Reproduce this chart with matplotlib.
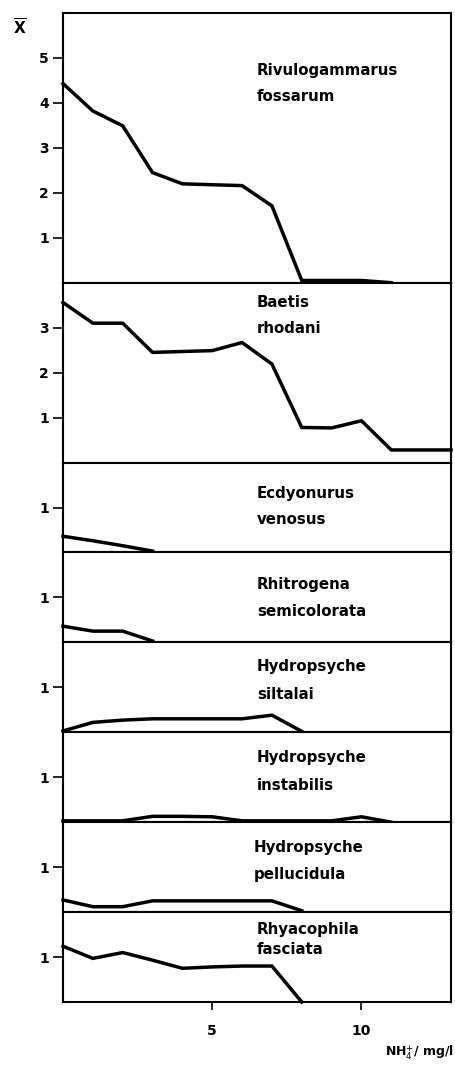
import matplotlib
matplotlib.use('Agg')
import matplotlib.pyplot as plt

# ---- data -------------------------------------------------------------
species = ["Rivulogammarus\nfossarum", "Baetis\nrhodani", "Ecdyonurus\nvenosus",
           "Rhitrogena\nsemicolorata", "Hydropsyche\nsiltalai", "Hydropsyche\ninstabilis",
           "Hydropsyche\npellucidula", "Rhyacophila\nfasciata"]

rivulo_x = [0, 1, 2, 3, 4, 5, 6, 7, 8, 9, 10, 11]
rivulo_y = [4.43, 3.82, 3.49, 2.45, 2.20, 2.18, 2.16, 1.71, 0.05, 0.05, 0.05, 0.0]

baetis_x = [0, 1, 2, 3, 4, 5, 6, 7, 8, 9, 10, 11, 12, 13]
baetis_y = [3.56, 3.10, 3.10, 2.45, 2.47, 2.49, 2.67, 2.19, 0.78, 0.77, 0.93, 0.28, 0.28, 0.28]

ecdy_x = [0, 1, 2, 3]
ecdy_y = [0.36, 0.26, 0.15, 0.03]

rhitro_x = [0, 1, 2, 3]
rhitro_y = [0.36, 0.25, 0.25, 0.03]

silt_x = [0, 1, 2, 3, 4, 5, 6, 7, 8]
silt_y = [0.03, 0.22, 0.27, 0.30, 0.30, 0.30, 0.30, 0.38, 0.02]

instab_x = [0, 1, 2, 3, 4, 5, 6, 7, 8, 9, 10, 11]
instab_y = [0.03, 0.03, 0.03, 0.13, 0.13, 0.12, 0.03, 0.03, 0.03, 0.03, 0.12, 0.0]

pellu_x = [0, 1, 2, 3, 4, 5, 6, 7, 8]
pellu_y = [0.27, 0.12, 0.12, 0.25, 0.25, 0.25, 0.25, 0.25, 0.03]

rhyaco_x = [0, 1, 2, 3, 4, 5, 6, 7, 8]
rhyaco_y = [1.24, 0.97, 1.10, 0.93, 0.75, 0.78, 0.80, 0.80, 0.0]

series_x = [rivulo_x, baetis_x, ecdy_x, rhitro_x, silt_x, instab_x, pellu_x, rhyaco_x]
series_y = [rivulo_y, baetis_y, ecdy_y, rhitro_y, silt_y, instab_y, pellu_y, rhyaco_y]

ymax = [6, 4, 2, 2, 2, 2, 2, 2]
yticks = [[1, 2, 3, 4, 5], [1, 2, 3], [1], [1], [1], [1], [1], [1]]
xticks = [5, 10]
xmax = 13

# ---- layout / style (label baselines in data units) -------------------
label_y = [(4.62, 4.04), (3.47, 2.89), (1.22, 0.64), (1.18, 0.58),
           (1.36, 0.73), (1.33, 0.71), (1.33, 0.73), (1.51, 1.07)]
label_x = [6.5, 6.5, 6.5, 6.5, 6.5, 6.5, 6.4, 6.5]

W, H = 456, 1076
fig = plt.figure(figsize=(W / 100, H / 100), dpi=100)
gs = fig.add_gridspec(len(species), 1, height_ratios=ymax, hspace=0,
                      left=63 / W, right=451 / W, top=1 - 13 / H, bottom=1 - 1002 / H)

for i, name in enumerate(species):
    ax = fig.add_subplot(gs[i])
    ax.plot(series_x[i], series_y[i], color='black', lw=2.5, solid_joinstyle='miter',
            clip_on=False, zorder=3)
    ax.set_xlim(0, xmax)
    ax.set_ylim(0, ymax[i])
    ax.set_yticks(yticks[i])
    ax.set_yticklabels([str(t) for t in yticks[i]], fontsize=10, fontweight='bold')
    ax.tick_params(axis='y', direction='out', length=7, width=1.2, pad=3)
    if i == len(species) - 1:
        ax.set_xticks(xticks)
        ax.set_xticklabels([str(t) for t in xticks], fontsize=10, fontweight='bold')
        ax.tick_params(axis='x', direction='out', length=6, width=1.2, pad=10)
    else:
        ax.set_xticks([])
    for s in ax.spines.values():
        s.set_linewidth(1.5)
    l1, l2 = name.split("\n")
    ax.text(label_x[i], label_y[i][0], l1, fontsize=10.8, fontweight='bold', va='baseline', ha='left')
    ax.text(label_x[i], label_y[i][1], l2, fontsize=10.8, fontweight='bold', va='baseline', ha='left')

fig.text(20 / W, 1 - 28 / H, r'$\overline{\mathbf{X}}$', fontsize=11, ha='center', va='center')
fig.text(385 / W, 1 - 1053 / H, r'NH$_4^{+}$/ mg/l', fontsize=9, fontweight='bold',
         ha='left', va='center')

fig.savefig('out.png', dpi=100)
